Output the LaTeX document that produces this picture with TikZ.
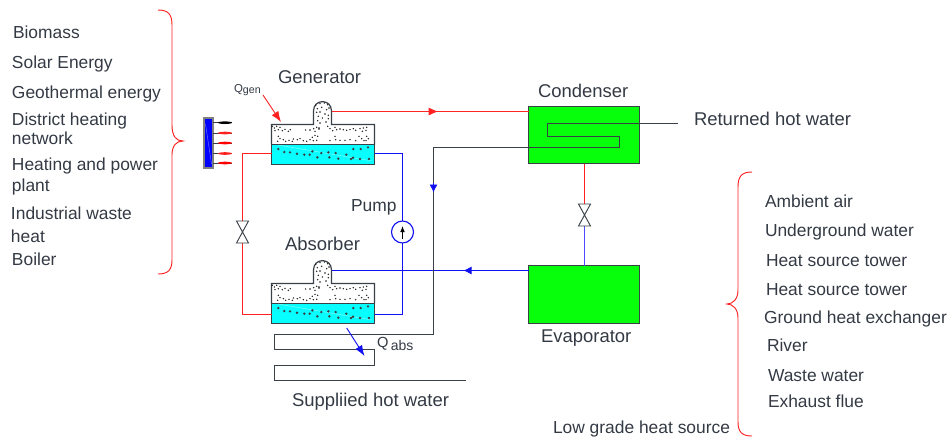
\documentclass[tikz,border=0pt]{standalone}
\usepackage{fontspec}
\setmainfont{Liberation Sans}
\usetikzlibrary{arrows.meta}
\definecolor{txt}{HTML}{333A44}
\definecolor{ln}{HTML}{3A4048}
\definecolor{redln}{HTML}{FF2020}
\definecolor{blueln}{HTML}{1010F0}
\definecolor{grn}{HTML}{08FF0C}
\definecolor{cyn}{HTML}{08FFFF}
\def\px{0.75pt}
\tikzset{
 lab/.style={anchor=base west,inner sep=0pt,outer sep=0pt,text=txt,font=\fontsize{13.05}{15}\selectfont},
 big/.style={lab,font=\fontsize{13.85}{15}\selectfont},
 redl/.style={draw=redln,line width=0.85pt},
 bluel/.style={draw=blueln,line width=0.85pt},
 coil/.style={draw=ln,line width=0.85pt},
 brace/.style={draw=redln,line width=0.7pt},
 hx/.style={draw=ln,fill=grn,line width=0.85pt,inner sep=0pt,outer sep=0pt},
 liquid/.style={draw=ln,fill=cyn,line width=0.9pt,inner sep=0pt,outer sep=0pt,minimum width=103*\px,minimum height=20*\px},
 valvebox/.style={inner sep=0pt,outer sep=0pt,minimum width=12*\px,minimum height=22*\px},
 rtip/.style={redln,-{Latex[length=7pt,width=6pt]},line width=0.6pt},
 btip/.style={blueln,-{Latex[length=6pt,width=6pt]},line width=0.6pt},
}
\def\updots{152/22,165/17,178/15,188/20,157/32,170/28,185/35,192/30,155/43,165/42,180/48,190/52,160/55,172/60,158/68,165/75,190/62,183/72,155/88,162/93,22/85,28/90,35/85,40/95,45/88,52/98,60/94,70/100,76/95,30/98,122/96,135/96,146/92,150/100,162/90,188/85,195/92,203/98,210/88,215/95,225/93,235/95,245/97,255/95,265/92,272/97,285/92,295/90,305/88,292/100,303/97,40/115,45/122,38/130,55/125,62/130,72/127,85/123,82/130,97/125,105/122,115/128,125/130,135/125,142/118,150/112,158/115,145/128,155/127,195/128,210/115,212/125,225/127,240/127,255/125,272/128,282/115,290/122,297/128,305/115,310/122,303/128}
\def\lodots{40/153,58/162,75/163,96/167,118/170,134/170,142/160,157/178,169/165,190/163,193/178,212/165,220/182,244/170,258/183,264/179,265/153,287/153,285/183,309/148,312/183}
% #1 name, #2 vertical offset
\newcommand\vessel[2]{%
 \begin{scope}[yshift=#2*-\px]
  \draw[ln,fill=white,line width=0.9pt] (271.5,144.5) -- (271.5,124.5) -- (313.5,124.5) -- (313.5,111)
     .. controls (313.5,98.5) and (331.5,98.5) .. (331.5,111) -- (331.5,124.5) -- (374.5,124.5) -- (374.5,144.5);
  \node[liquid] (#1liq) at (323,154.5) {};
  \coordinate (#1out) at (331.5,111.5);
  \draw[white,opacity=.55,line width=0.3pt] (278,145) -- (372,161);
  \begin{scope}[shift={(265,98)},x=.25pt,y=-.25pt]
   \foreach \a/\b in \updots {\fill[black!90] (\a,\b) circle [radius=2.3];}
   \foreach \a/\b in \lodots {\fill[black!85!cyan] (\a,\b) circle [radius=4];}
  \end{scope}
 \end{scope}}
\newcommand\valveshape[1]{\draw[ln,fill=white,line width=0.7pt] (#1.north west) -- (#1.north east) -- (#1.south west) -- (#1.south east) -- cycle;}
\begin{document}
\begin{tikzpicture}[x=\px,y=-\px]
\useasboundingbox (0,0) rectangle (952,437);
% left list
\node[lab] (t1) at (13,38) {Biomass};
\node[lab] (t2) at (12,68) {Solar Energy};
\node[lab] (t3) at (12,98) {Geothermal energy};
\node[lab] (t4) at (12,125) {District heating};
\node[lab] (t5) at (12,144) {network};
\node[lab] (t6) at (12,170) {Heating and power};
\node[lab] (t7) at (12,191) {plant};
\node[lab] (t8) at (11,219) {Industrial waste};
\node[lab] (t9) at (11,242) {heat};
\node[lab] (t10) at (12,265) {Boiler};
% left brace
\draw[brace] (158,10) .. controls (168,10) and (172,14) .. (172,25) -- (172,125)
  .. controls (172,136) and (176,141) .. (183,141)
  .. controls (176,141) and (172,146) .. (172,155) -- (172,260)
  .. controls (172,270) and (168,274) .. (158,274);
% heat source
\node[draw=black!50,fill=blue,line width=0.8pt,inner sep=0pt,outer sep=0pt,minimum width=9*\px,minimum height=50*\px] (burner) at (208.5,143) {};
\draw[white,opacity=.5,line width=0.3pt] (205.5,124) -- (211.5,164);
\foreach \yy/\cc in {122.7/black,133/redln,143/red,153.5/redln,163/red}{
  \draw[ln,line width=0.6pt] (213,\yy) -- (232,\yy);
  \fill[\cc] (225,\yy) ellipse [x radius=7,y radius=1.3];
}
% vessels
\vessel{gen}{0}
\vessel{abs}{159}
% heat exchangers
\node[hx,minimum width=111*\px,minimum height=57*\px] (condenser) at (584,135) {};
\node[hx,minimum width=111*\px,minimum height=58*\px] (evaporator) at (584,294.5) {};
% valves and pump
\node[valvebox] (v1) at (242.5,232) {};
\node[valvebox] (v2) at (584.5,215) {};
\node[circle,draw=blueln,fill=white,line width=0.85pt,minimum size=22*\px,inner sep=0pt,outer sep=0pt] (pump) at (402.5,232) {};
% red / blue connectors
\coordinate (a1) at (242.5,153.5);
\coordinate (a2) at (242.5,314.5);
\coordinate (b1) at (402.5,153.5);
\coordinate (b2) at (402.5,314.5);
\draw[redl] (genliq.west |- a1) -- (a1) -- (v1.north);
\draw[redl] (v1.south) -- (a2) -- (absliq.west |- a2);
\draw[bluel] (genliq.east |- b1) -- (b1) -- (pump.north);
\draw[bluel] (pump.south) -- (b2) -- (absliq.east |- b2);
\draw[redl,draw=red!85!white] (genout) -- (condenser.west |- genout);
\draw[bluel] (evaporator.west |- absout) -- (absout);
\draw[redl] (v2.north |- condenser.south) -- (v2.north);
\draw[bluel,draw=blue!70!white] (v2.south) -- (v2.south |- evaporator.north);
\valveshape{v1}
\valveshape{v2}
% water coil
\coordinate (ret) at (678,123.5);
\coordinate (sup) at (465.7,380.5);
\draw[coil] (ret) -- (547.5,123.5) -- (547.5,136.5) -- (619.5,136.5) -- (619.5,147.5) -- (433.5,147.5)
  -- (433.5,334.5) -- (274.5,334.5) -- (274.5,349.5) -- (374.5,349.5) -- (374.5,365.5) -- (274.5,365.5) -- (274.5,380.5) -- (sup);
% flow tips
\coordinate (r1) at (428,111.5); \coordinate (r2) at (438,111.5);
\draw[rtip] (r1) -- (r2);
\coordinate (d1) at (433.5,183); \coordinate (d2) at (433.5,192.5);
\draw[btip] (d1) -- (d2);
\coordinate (l1) at (473,270.5); \coordinate (l2) at (463.5,270.5);
\draw[btip] (l1) -- (l2);
% pump tip
\coordinate (p1) at (402.5,238.5); \coordinate (p2) at (402.5,226);
\draw[black,-{Latex[length=4.5pt,width=3.5pt]},line width=0.6pt] (p1) -- (p2);
% heat arrows
\coordinate (qg1) at (263,95); \coordinate (qg2) at (281,122);
\draw[redln,-{Latex[length=8pt,width=6pt]},line width=0.7pt] (qg1) -- (qg2);
\coordinate (qa1) at (346.7,328); \coordinate (qa2) at (364.5,356);
\draw[blueln,-{Latex[length=8pt,width=6pt]},line width=0.7pt] (qa1) -- (qa2);
% labels
\node[big] (lgen) at (278,83) {Generator};
\node[big] (lcond) at (538,97) {Condenser};
\node[big] (lret) at (694,125) {Returned hot water};
\node[lab] (lpump) at (351,211) {Pump};
\node[big] (labs) at (285,250) {Absorber};
\node[big] (levap) at (541,342) {Evaporator};
\node[big] (lsup) at (292,406) {Suppliied hot water};
\node[lab,font=\fontsize{8.6}{10}\selectfont] (lqgen) at (234,92) {Q\raisebox{-0.25ex}{\fontsize{8}{9}\selectfont gen}};
\node[lab,font=\fontsize{11}{12}\selectfont] (lqabs) at (377,347.5) {Q\,\raisebox{-0.45ex}{\fontsize{10.5}{12}\selectfont abs}};
% right brace
\draw[brace] (752,172) .. controls (742,172) and (738,176) .. (738,187) -- (738,290)
  .. controls (738,299) and (733,304) .. (727,304)
  .. controls (733,304) and (738,309) .. (738,318) -- (738,422)
  .. controls (738,432) and (742,436) .. (752,436);
% right list
\node[lab] (s1) at (765,207.5) {Ambient air};
\node[lab] (s2) at (765,236) {Underground water};
\node[lab] (s3) at (766,266) {Heat source tower};
\node[lab] (s4) at (766,295) {Heat source tower};
\node[lab] (s5) at (764,323) {Ground heat exchanger};
\node[lab] (s6) at (767,351.5) {River};
\node[lab] (s7) at (768,381) {Waste water};
\node[lab] (s8) at (768,407.5) {Exhaust flue};
\node[lab] (s9) at (553,433) {Low grade heat source};
\end{tikzpicture}
\end{document}
